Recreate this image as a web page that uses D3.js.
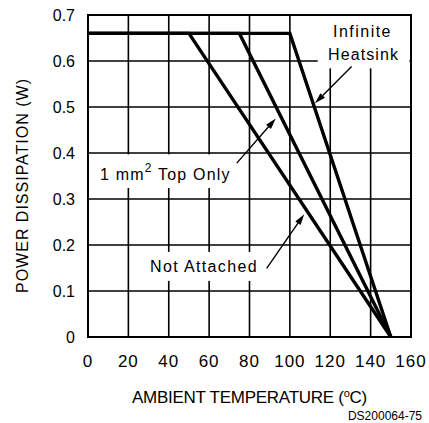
<!DOCTYPE html>
<html><head><meta charset="utf-8">
<script src="https://cdn.jsdelivr.net/npm/d3@7"></script>
<style>body{margin:0;background:#fff}svg{display:block}text{font-family:"Liberation Sans",Arial,sans-serif;fill:#000}</style>
</head><body><svg id="c" width="429" height="423"></svg>
<script>
// Data
const xTicks = [0, 20, 40, 60, 80, 100, 120, 140, 160];
const yTicks = [0, 0.1, 0.2, 0.3, 0.4, 0.5, 0.6, 0.7];
const yTickLabels = ["0", "0.1", "0.2", "0.3", "0.4", "0.5", "0.6", "0.7"];
const notAttachedT = [0, 50, 150];
const notAttachedP = [0.66, 0.66, 0];
const topOnlyT = [0, 75, 150];
const topOnlyP = [0.66, 0.66, 0];
const infiniteT = [0, 100, 150];
const infiniteP = [0.66, 0.66, 0];
const xTitle = "AMBIENT TEMPERATURE (";
const yTitle = "POWER DISSIPATION (W)";
const figId = "DS200064-75";
// annotation anchors (data units)
const annInfinite = {from: [130.6, 0.588], to: [112.4, 0.508]};
const annTopOnly = {from: [73.7, 0.378], to: [93.0, 0.475]};
const annNotAtt = {from: [88.5, 0.149], to: [107.1, 0.267]};

const svg = d3.select("#c");
const x = d3.scaleLinear().domain([0, 160]).range([88, 411]);
const y = d3.scaleLinear().domain([0, 0.7]).range([337, 15]);

// grid
const g = svg.append("g");
g.selectAll(".vg").data(xTicks).join("line")
  .attr("x1", d => x(d)).attr("x2", d => x(d)).attr("y1", y(0)).attr("y2", y(0.7))
  .attr("stroke", "#000").attr("stroke-width", 1.6);
g.selectAll(".hg").data(yTicks).join("line")
  .attr("x1", x(0)).attr("x2", x(160)).attr("y1", d => y(d)).attr("y2", d => y(d))
  .attr("stroke", "#000").attr("stroke-width", 1.6);

// white boxes behind labels
function box(x0, x1, y0, y1) {
  svg.append("rect").attr("x", x(x0)).attr("y", y(y1))
    .attr("width", x(x1) - x(x0)).attr("height", y(y0) - y(y1)).attr("fill", "#fff");
}
box(113.8, 159.2, 0.584, 0.698); // Infinite Heatsink
box(4.0, 74.6, 0.324, 0.397);    // 1 mm2 Top Only
box(28.2, 85.7, 0.122, 0.185);   // Not Attached

// border
svg.append("rect").attr("x", x(0)).attr("y", y(0.7)).attr("width", x(160) - x(0))
  .attr("height", y(0) - y(0.7)).attr("fill", "none").attr("stroke", "#000").attr("stroke-width", 2);

// curves
const line = d3.line().x(d => x(d[0])).y(d => y(d[1]));
[[notAttachedT, notAttachedP], [topOnlyT, topOnlyP], [infiniteT, infiniteP]].forEach(([t, p]) => {
  svg.append("path").datum(t.map((v, i) => [v, p[i]])).attr("d", line)
    .attr("fill", "none").attr("stroke", "#000").attr("stroke-width", 3.4)
    .attr("stroke-linejoin", "miter");
});

// arrows
function arrow(a) {
  const x0 = x(a.from[0]), y0 = y(a.from[1]), x1 = x(a.to[0]), y1 = y(a.to[1]);
  const ang = Math.atan2(y1 - y0, x1 - x0), L = 11, W = 3.2;
  const bx = x1 - L * Math.cos(ang), by = y1 - L * Math.sin(ang);
  svg.append("line").attr("x1", x0).attr("y1", y0).attr("x2", bx).attr("y2", by)
    .attr("stroke", "#000").attr("stroke-width", 1.4);
  const px = -Math.sin(ang) * W, py = Math.cos(ang) * W;
  svg.append("path").attr("d", `M${x1},${y1}L${bx + px},${by + py}L${bx - px},${by - py}Z`).attr("fill", "#000");
}
[annInfinite, annTopOnly, annNotAtt].forEach(arrow);

function fit(sel, w) {
  const n = sel.text().length;
  const cur = sel.node().getComputedTextLength();
  sel.attr("letter-spacing", (w - cur) / n);
}

// tick labels
svg.selectAll(".xt").data(xTicks).join("text")
  .attr("x", d => x(d)).attr("y", 367).attr("text-anchor", "middle")
  .attr("font-size", 17).attr("letter-spacing", 1).text(d => d);
svg.selectAll(".yt").data(yTicks).join("text")
  .attr("x", 75).attr("y", d => y(d) + 6).attr("text-anchor", "end")
  .attr("font-size", 16).text((d, i) => yTickLabels[i]);

// axis titles
const xt = svg.append("text").attr("x", 132).attr("y", 403).attr("font-size", 17);
xt.append("tspan").text(xTitle);
xt.append("tspan").attr("font-size", 11).attr("dy", -6).text("o");
xt.append("tspan").attr("dy", 6).text("C)");
{
  const cur = xt.node().getComputedTextLength();
  const n = xTitle.length + 3;
  xt.attr("letter-spacing", (235 - cur) / n);
}
const yt = svg.append("text").attr("transform", "translate(28,293) rotate(-90)").attr("font-size", 16).text(yTitle);
fit(yt, 215);

// annotation labels
const t1 = svg.append("text").attr("x", 333).attr("y", 37).attr("font-size", 16).text("Infinite");
fit(t1, 59);
const t2 = svg.append("text").attr("x", 328).attr("y", 60).attr("font-size", 16).text("Heatsink");
fit(t2, 71);
const t3 = svg.append("text").attr("x", 100).attr("y", 180).attr("font-size", 16);
t3.append("tspan").text("1 mm");
t3.append("tspan").attr("font-size", 12).attr("dy", -8).text("2");
t3.append("tspan").attr("dy", 8).text(" Top Only");
{
  const cur = t3.node().getComputedTextLength();
  t3.attr("letter-spacing", (132 - cur) / 15);
}
const t4 = svg.append("text").attr("x", 150).attr("y", 272).attr("font-size", 16).text("Not Attached");
fit(t4, 108);

svg.append("text").attr("x", 422).attr("y", 420).attr("text-anchor", "end")
  .attr("font-size", 12).text(figId);
</script></body></html>
